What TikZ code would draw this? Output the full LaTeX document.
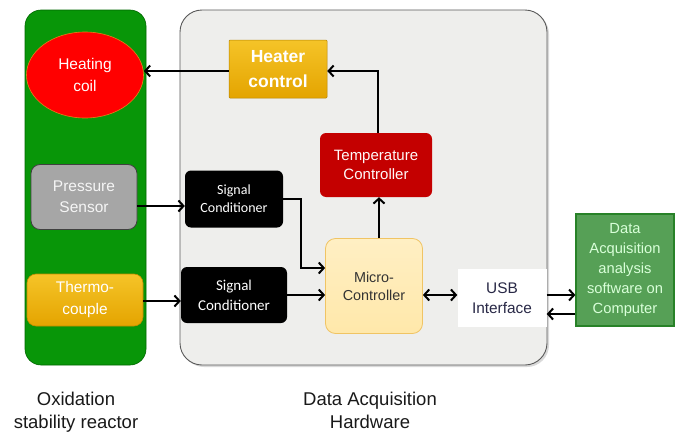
\documentclass[tikz,border=0pt]{standalone}
\usepackage{fontspec}
\setmainfont{Liberation Sans}
\newfontfamily\calfont{Carlito}
\usetikzlibrary{arrows.meta,shapes.geometric,shadows}
\definecolor{panelgreen}{RGB}{8,150,8}
\definecolor{panelgray}{RGB}{238,238,236}
\definecolor{gold}{RGB}{228,164,0}
\definecolor{goldlight}{RGB}{245,196,40}
\definecolor{darkred}{RGB}{196,0,0}
\definecolor{sensorgray}{RGB}{166,166,166}
\definecolor{microfill}{RGB}{255,232,170}
\definecolor{microborder}{RGB}{240,196,100}
\definecolor{compfill}{RGB}{86,160,86}
\definecolor{compborder}{RGB}{40,130,40}
\definecolor{navytext}{RGB}{40,40,70}
\tikzset{
  box/.style={rectangle, rounded corners=6pt, align=center, inner sep=1pt},
  arr/.style={line width=2.4pt, -{Straight Barb[length=5pt,width=11pt,line width=2pt]}},
  darr/.style={line width=2.4pt, {Straight Barb[length=5pt,width=11pt,line width=2pt]}-{Straight Barb[length=5pt,width=11pt,line width=2pt]}},
  lbl/.style={align=center, anchor=north, inner sep=0pt, font=\fontsize{18.5}{23}\selectfont, text=black!90},
}
\begin{document}
\begin{tikzpicture}[x=1pt,y=-1pt]
\useasboundingbox (0,0) rectangle (681,434);
% panels
\fill[panelgreen, draw=green!40!black, line width=0.6pt, rounded corners=16pt] (25,10) rectangle (146,365);
\fill[panelgray, draw=gray!70!black, line width=0.9pt, rounded corners=22pt, drop shadow={shadow xshift=2pt,shadow yshift=-2pt,opacity=0.3}] (180,10) rectangle (547,365);
% nodes
\node[ellipse, fill=red, draw=orange!60!brown, line width=0.6pt, minimum width=117pt, minimum height=86pt, text=white!95!pink, align=center, font=\fontsize{15.5}{22}\selectfont, inner sep=0pt] (coil) at (85,75) {Heating\\coil};
\node[box, rounded corners=1pt, top color=goldlight, bottom color=gold, draw=gold!80!black, line width=0.5pt, minimum width=98pt, minimum height=58pt, text=white, font=\bfseries\fontsize{17.5}{25}\selectfont] (heater) at (278,69) {Heater\\control};
\node[box, fill=darkred, minimum width=112pt, minimum height=64pt, text=white!90!pink, font=\fontsize{15}{19}\selectfont] (temp) at (376,165) {Temperature\\Controller};
\node[box, rounded corners=9pt, fill=sensorgray, draw=black!75, line width=0.8pt, minimum width=106pt, minimum height=65pt, text=white!92!gray, font=\fontsize{15.5}{21}\selectfont] (press) at (84,197) {Pressure\\Sensor};
\node[box, rounded corners=9pt, top color=goldlight, bottom color=gold, draw=gold!85!black, line width=0.6pt, minimum width=116pt, minimum height=52pt, text=white, font=\fontsize{15.4}{22}\selectfont] (thermo) at (85,300) {Thermo-\\couple};
\node[box, fill=black, minimum width=98pt, minimum height=57pt, text=white, font=\calfont\fontsize{14}{18}\selectfont] (sc1) at (234,199) {Signal\\Conditioner};
\node[box, fill=black, minimum width=106pt, minimum height=56pt, text=white, font=\calfont\fontsize{15}{20}\selectfont] (sc2) at (234,295) {Signal\\Conditioner};
\node[box, rounded corners=10pt, top color=microfill!70!white, bottom color=microfill, draw=microborder, line width=0.8pt, minimum width=97pt, minimum height=95pt, text=black!80, font=\fontsize{14.4}{18}\selectfont] (micro) at (374,286) {Micro-\\Controller};
\node[box, rounded corners=0pt, fill=white, minimum width=89pt, minimum height=58pt, text=navytext, font=\fontsize{15.4}{20}\selectfont] (usb) at (502,298) {USB\\Interface};
\node[box, rounded corners=0pt, fill=compfill, draw=compborder, line width=1.2pt, minimum width=98pt, minimum height=112pt, text=white!85!green, font=\fontsize{14.7}{20}\selectfont] (comp) at (625,270) {Data\\Acquisition\\analysis\\software on\\Computer};
% connectors
\draw[arr] (heater.west |- 0,71) -- (coil.east |- 0,71);
\draw[arr] (temp.north -| 378,0) -- (378,71) -- (heater.east |- 0,71);
\draw[arr] (press.east |- 0,206) -- (sc1.west |- 0,206);
\draw[arr] (thermo.east |- 0,301) -- (sc2.west |- 0,301);
\draw[arr] (sc1.east |- 0,199) -- (301,199) -- (301,268) -- (micro.west |- 0,268);
\draw[arr] (sc2.east |- 0,295) -- (micro.west |- 0,295);
\draw[arr] (micro.north -| 379,0) -- (temp.south -| 379,0);
\draw[darr] (micro.east |- 0,295) -- (usb.west |- 0,295);
\draw[arr] (usb.east |- 0,295) -- (comp.west |- 0,295);
\draw[arr] (comp.west |- 0,314) -- (usb.east |- 0,314);
% labels
\node[lbl] (lab1) at (76,392) {Oxidation\\stability reactor};
\node[lbl] (lab2) at (370,392) {Data Acquisition\\Hardware};
\end{tikzpicture}
\end{document}
